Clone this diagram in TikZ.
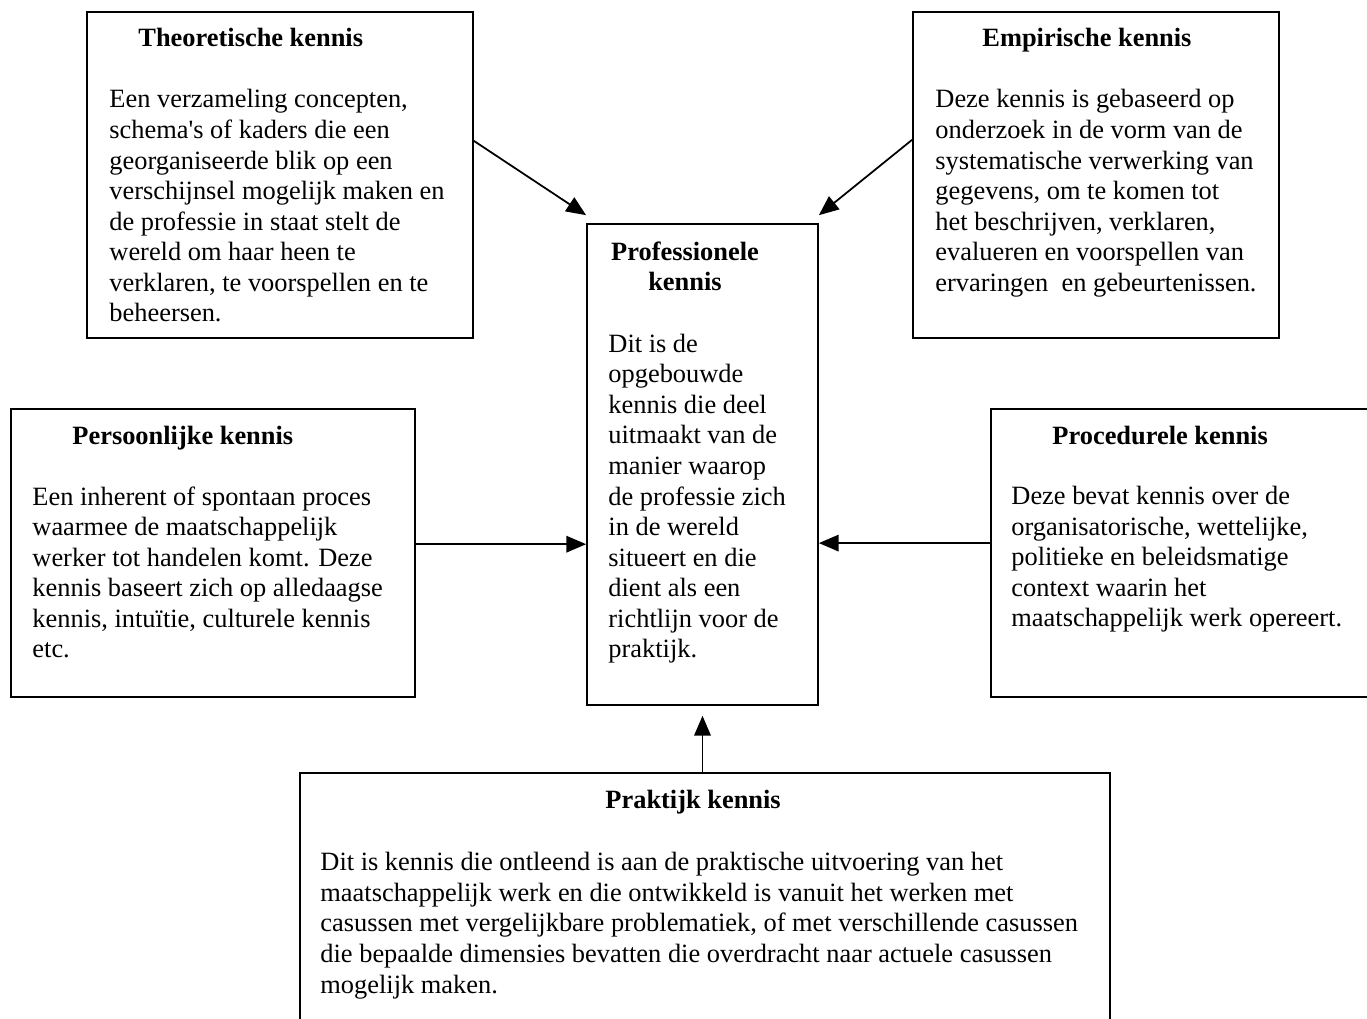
\documentclass[tikz,border=0pt]{standalone}
\usepackage{fontspec}
\setmainfont{Liberation Serif}
\usetikzlibrary{fit,arrows.meta}

\begin{document}
\begin{tikzpicture}[x=0.4545pt,y=-0.4545pt,
  every node/.style={font=\fontsize{12pt}{13.9pt}\selectfont},
  box/.style={draw,line width=0.8pt,inner sep=0pt},
  kop/.style={anchor=base west,inner sep=0pt,font=\fontsize{12pt}{13.9pt}\selectfont\bfseries},
  tekst/.style={anchor=base west,inner sep=0pt,align=left},
  pijl/.style={-{Triangle[length=9pt,width=7.5pt]},line width=0.8pt}]
\useasboundingbox (0,0) rectangle (1367,1019);

\node[box,fit={(87,12) (473,338)}] (theo) {};
\node[kop] (theoKop) at (138,47) {Theoretische kennis};
\node[tekst] (theoTekst) at (109,322) {Een verzameling concepten,\\
schema\textquotesingle s of kaders die een\\
georganiseerde blik op een\\
verschijnsel mogelijk maken en\\
de professie in staat stelt de\\
wereld om haar heen te\\
verklaren, te voorspellen en te\\
beheersen.};

\node[box,fit={(913,12) (1279,338)}] (emp) {};
\node[kop] (empKop) at (982,47) {Empirische kennis};
\node[tekst] (empTekst) at (935,291.5) {Deze kennis is gebaseerd op\\
onderzoek in de vorm van de\\
systematische verwerking van\\
gegevens, om te komen tot\\
het beschrijven, verklaren,\\
evalueren en voorspellen van\\
ervaringen\ \ en gebeurtenissen.};

\node[box,fit={(587,224) (818,705)}] (prof) {};
\node[kop,anchor=base,align=center] (profKop) at (685,291) {Professionele\\kennis};
\node[tekst] (profTekst) at (608,658) {Dit is de\\
opgebouwde\\
kennis die deel\\
uitmaakt van de\\
manier waarop\\
de professie zich\\
in de wereld\\
situeert en die\\
dient als een\\
richtlijn voor de\\
praktijk.};

\node[box,fit={(11,409) (415,697)}] (pers) {};
\node[kop] (persKop) at (72,445) {Persoonlijke kennis};
\node[tekst] (persTekst) at (32,658) {Een inherent of spontaan proces\\
waarmee de maatschappelijk\\
werker tot handelen komt. Deze\\
kennis baseert zich op alledaagse\\
kennis, intuïtie, culturele kennis\\
etc.};

\node[box,fit={(991,409) (1390,697)}] (proc) {};
\node[kop] (procKop) at (1052,445) {Procedurele kennis};
\node[tekst] (procTekst) at (1011,627) {Deze bevat kennis over de\\
organisatorische, wettelijke,\\
politieke en beleidsmatige\\
context waarin het\\
maatschappelijk werk opereert.};

\node[box,fit={(300,773) (1110,1040)}] (prak) {};
\node[kop] (prakKop) at (605,808) {Praktijk kennis};
\node[tekst] (prakTekst) at (320,993) {Dit is kennis die ontleend is aan de praktische uitvoering van het\\
maatschappelijk werk en die ontwikkeld is vanuit het werken met\\
casussen met vergelijkbare problematiek, of met verschillende casussen\\
die bepaalde dimensies bevatten die overdracht naar actuele casussen\\
mogelijk maken.};

\draw[pijl] ([yshift=15.5pt]theo.east) -- ([yshift=3.6pt]prof.north west);
\draw[pijl] ([yshift=16pt]emp.west) -- ([yshift=3.6pt]prof.north east);
\draw[pijl] ([yshift=4pt]pers.east) -- ([yshift=4pt]pers.east -| prof.west);
\draw[pijl] ([yshift=4.5pt]proc.west) -- ([yshift=4.5pt]proc.west -| prof.east);
\draw[pijl] (prak.north -| prof.south) -- ([yshift=-4.5pt]prof.south);
\end{tikzpicture}
\end{document}
